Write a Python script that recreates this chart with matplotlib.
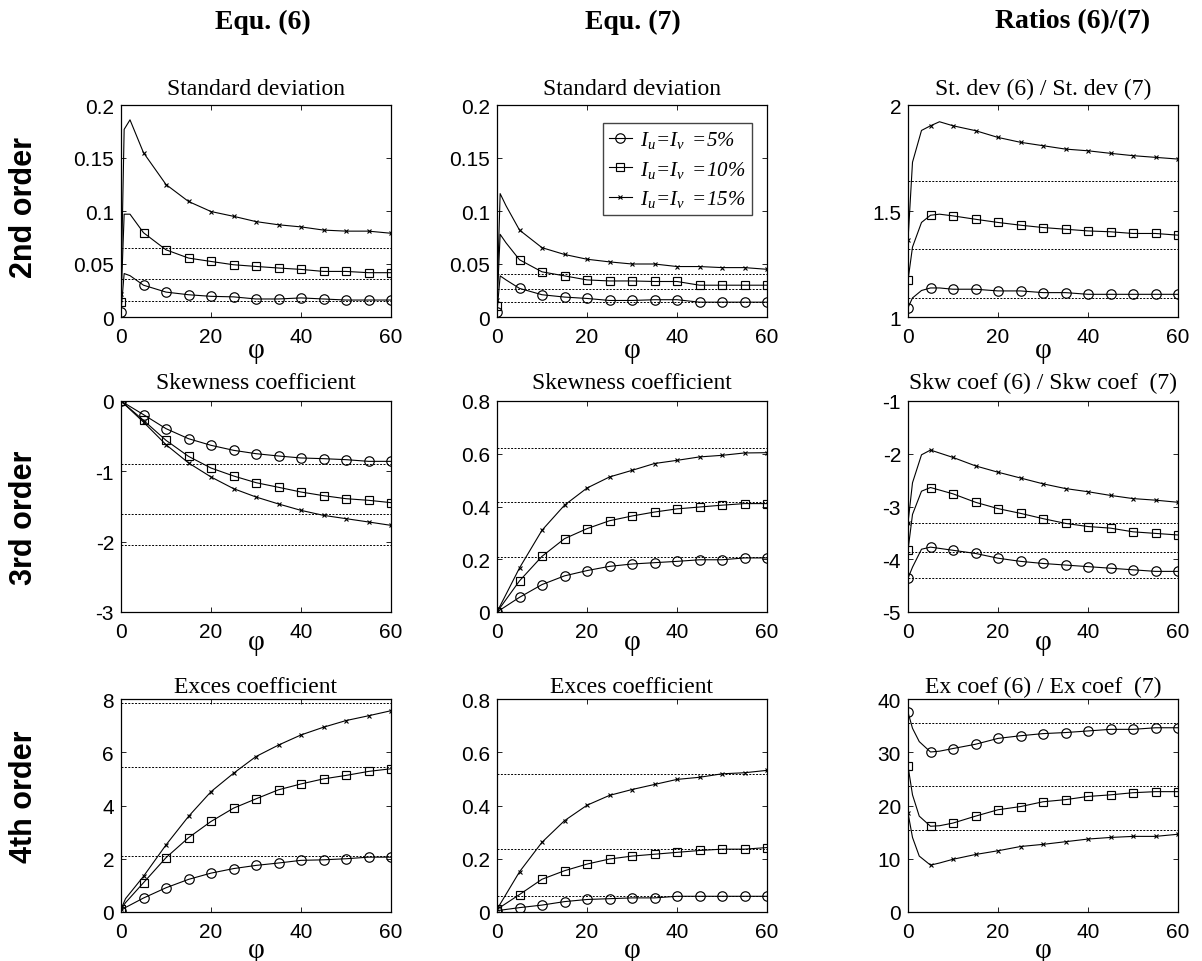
"""
Statistical moments of Equ. (6) and Equ. (7) versus phi, and their ratios
"""
import matplotlib
matplotlib.use('Agg')
import matplotlib.pyplot as plt

plt.rcParams['font.family'] = 'Liberation Sans'
plt.rcParams['mathtext.fontset'] = 'custom'
plt.rcParams['mathtext.rm'] = 'Liberation Serif:italic'
plt.rcParams['mathtext.it'] = 'Liberation Serif:italic'

# ---- data ----
labels = [r'$I_u\!=\!I_v\ =\!5\%$', r'$I_u\!=\!I_v\ =\!10\%$', r'$I_u\!=\!I_v\ =\!15\%$']

# 2nd order - standard deviation, Equ. (6)
phi_sd = [0, 0.7, 2, 5, 10, 15, 20, 25, 30, 35, 40, 45, 50, 55, 60]
sd6_5 = [0.005, 0.041, 0.039, 0.030, 0.0235, 0.021, 0.0195, 0.019, 0.017, 0.017, 0.018, 0.017, 0.016, 0.016, 0.016]
sd6_10 = [0.014, 0.097, 0.097, 0.0795, 0.0634, 0.0556, 0.0524, 0.0493, 0.0477, 0.0462, 0.0449, 0.043, 0.043, 0.0418, 0.0418]
sd6_15 = [0.022, 0.177, 0.186, 0.155, 0.125, 0.109, 0.0995, 0.095, 0.090, 0.087, 0.085, 0.082, 0.081, 0.081, 0.079]
sd6_ref = [0.0653, 0.0355, 0.0151]

# 2nd order - standard deviation, Equ. (7)
sd7_5 = [0.0047, 0.0388, 0.035, 0.027, 0.021, 0.0188, 0.0175, 0.0156, 0.0156, 0.0163, 0.0163, 0.014, 0.014, 0.014, 0.014]
sd7_10 = [0.0106, 0.078, 0.070, 0.054, 0.0426, 0.0388, 0.035, 0.034, 0.034, 0.0335, 0.0335, 0.030, 0.030, 0.030, 0.030]
sd7_15 = [0.016, 0.1164, 0.105, 0.082, 0.0654, 0.059, 0.0545, 0.052, 0.050, 0.050, 0.0476, 0.0476, 0.0466, 0.0466, 0.045]
sd7_ref = [0.0407, 0.0263, 0.0138]

# 2nd order - ratio
phi_rsd = [0, 1, 3, 5, 7, 10, 15, 20, 25, 30, 35, 40, 45, 50, 55, 60]
rsd_5 = [1.044, 1.09, 1.125, 1.137, 1.137, 1.131, 1.131, 1.123, 1.123, 1.115, 1.115, 1.107, 1.107, 1.107, 1.107, 1.107]
rsd_10 = [1.173, 1.33, 1.446, 1.480, 1.485, 1.477, 1.461, 1.446, 1.433, 1.422, 1.414, 1.406, 1.402, 1.394, 1.394, 1.386]
rsd_15 = [1.362, 1.73, 1.88, 1.902, 1.921, 1.902, 1.879, 1.847, 1.824, 1.808, 1.792, 1.784, 1.772, 1.761, 1.753, 1.745]
rsd_ref = [1.641, 1.323, 1.088]

# 3rd order - skewness
phi_5 = [0, 5, 10, 15, 20, 25, 30, 35, 40, 45, 50, 55, 60]
sk6_5 = [0, -0.194, -0.393, -0.536, -0.630, -0.701, -0.749, -0.782, -0.810, -0.820, -0.834, -0.858, -0.858]
sk6_10 = [0, -0.275, -0.559, -0.787, -0.953, -1.066, -1.161, -1.227, -1.294, -1.346, -1.389, -1.412, -1.445]
sk6_15 = [0, -0.30, -0.621, -0.88, -1.08, -1.246, -1.365, -1.464, -1.555, -1.626, -1.673, -1.72, -1.768]
sk6_ref = [-0.896, -1.607, -2.052]

sk7_5 = [0, 0.0556, 0.104, 0.137, 0.157, 0.173, 0.182, 0.187, 0.192, 0.198, 0.198, 0.205, 0.205]
sk7_10 = [0, 0.118, 0.211, 0.278, 0.316, 0.346, 0.364, 0.379, 0.391, 0.398, 0.405, 0.411, 0.411]
sk7_15 = [0, 0.167, 0.310, 0.405, 0.470, 0.512, 0.537, 0.563, 0.575, 0.588, 0.594, 0.603, 0.604]
sk7_ref = [0.623, 0.417, 0.209]

phi_rsk = [0, 1, 3, 5, 10, 15, 20, 25, 30, 35, 40, 45, 50, 55, 60]
rsk_5 = [-4.36, -4.15, -3.81, -3.77, -3.83, -3.89, -3.98, -4.04, -4.08, -4.11, -4.14, -4.17, -4.20, -4.23, -4.23]
rsk_10 = [-3.83, -3.15, -2.71, -2.64, -2.76, -2.92, -3.04, -3.13, -3.23, -3.32, -3.38, -3.41, -3.48, -3.51, -3.54]
rsk_15 = [-3.31, -2.55, -2.02, -1.93, -2.07, -2.23, -2.35, -2.46, -2.57, -2.66, -2.72, -2.79, -2.85, -2.88, -2.92]
rsk_ref = [-3.31, -3.87, -4.35]

# 4th order - excess
phi_ex = [0, 1, 5, 10, 15, 20, 25, 30, 35, 40, 45, 50, 55, 60]
ex6_5 = [0.05, 0.17, 0.525, 0.91, 1.225, 1.46, 1.63, 1.75, 1.84, 1.94, 1.96, 2.0, 2.06, 2.06]
ex6_10 = [0.1, 0.35, 1.10, 2.04, 2.79, 3.40, 3.90, 4.25, 4.59, 4.81, 5.0, 5.13, 5.28, 5.38]
ex6_15 = [0.1, 0.5, 1.34, 2.52, 3.59, 4.52, 5.21, 5.84, 6.27, 6.65, 6.94, 7.19, 7.37, 7.56]
ex6_ref = [7.84, 5.46, 2.1]

ex7_5 = [0.005, 0.0164, 0.026, 0.039, 0.047, 0.050, 0.053, 0.053, 0.059, 0.059, 0.059, 0.059, 0.059]
ex7_10 = [0.01, 0.0655, 0.123, 0.155, 0.18, 0.199, 0.21, 0.217, 0.224, 0.231, 0.236, 0.236, 0.242]
ex7_15 = [0.01, 0.151, 0.262, 0.343, 0.401, 0.438, 0.46, 0.479, 0.498, 0.506, 0.519, 0.523, 0.532]
ex7_ref = [0.517, 0.236, 0.060]

phi_rex = [0, 1, 2.5, 5, 7, 10, 15, 20, 25, 30, 35, 40, 45, 50, 55, 60]
rex_5 = [37.5, 34.5, 32.0, 30.05, 30.2, 30.7, 31.5, 32.6, 33.1, 33.5, 33.7, 34.0, 34.3, 34.3, 34.6, 34.6]
rex_10 = [27.4, 22.0, 18.0, 16.1, 16.2, 16.7, 18.0, 19.2, 19.8, 20.7, 21.1, 21.7, 22.0, 22.4, 22.6, 22.6]
rex_15 = [18.6, 14.0, 10.5, 8.8, 9.2, 9.9, 10.8, 11.5, 12.3, 12.7, 13.2, 13.7, 14.0, 14.2, 14.2, 14.6]
rex_ref = [35.5, 23.6, 15.4]

panels = [
    [(phi_sd, [sd6_5, sd6_10, sd6_15], sd6_ref, 'Standard deviation', (0, 0.2), [0, 0.05, 0.1, 0.15, 0.2]),
     (phi_sd, [sd7_5, sd7_10, sd7_15], sd7_ref, 'Standard deviation', (0, 0.2), [0, 0.05, 0.1, 0.15, 0.2]),
     (phi_rsd, [rsd_5, rsd_10, rsd_15], rsd_ref, 'St. dev (6) / St. dev (7)', (1, 2), [1, 1.5, 2])],
    [(phi_5, [sk6_5, sk6_10, sk6_15], sk6_ref, 'Skewness coefficient', (-3, 0), [-3, -2, -1, 0]),
     (phi_5, [sk7_5, sk7_10, sk7_15], sk7_ref, 'Skewness coefficient', (0, 0.8), [0, 0.2, 0.4, 0.6, 0.8]),
     (phi_rsk, [rsk_5, rsk_10, rsk_15], rsk_ref, 'Skw coef (6) / Skw coef  (7)', (-5, -1), [-5, -4, -3, -2, -1])],
    [(phi_ex, [ex6_5, ex6_10, ex6_15], ex6_ref, 'Exces coefficient', (0, 8), [0, 2, 4, 6, 8]),
     (phi_5, [ex7_5, ex7_10, ex7_15], ex7_ref, 'Exces coefficient', (0, 0.8), [0, 0.2, 0.4, 0.6, 0.8]),
     (phi_rex, [rex_5, rex_10, rex_15], rex_ref, 'Ex coef (6) / Ex coef  (7)', (0, 40), [0, 10, 20, 30, 40])],
]

col_titles = ['Equ. (6)', 'Equ. (7)', 'Ratios (6)/(7)']
row_titles = ['2nd order', '3rd order', '4th order']

# ---- layout (figure fractions) ----
W, H = 1202, 962
col_left = [121, 497, 908]
row_top = [106, 402, 700]
row_bot = [318, 613, 913]
title_pad = [8, 9, 5]
phi_off = [33, 30, 38]

markers = [dict(marker='o', markersize=6.8, markerfacecolor='none', markeredgewidth=0.85),
           dict(marker='s', markersize=5.4, markerfacecolor='none', markeredgewidth=0.85),
           dict(marker='x', markersize=3, markeredgewidth=0.8)]

fig = plt.figure(figsize=(W / 100, H / 100), dpi=100)

for r in range(3):
    for c in range(3):
        phi, series, refs, title, ylim, yticks = panels[r][c]
        ax = fig.add_axes([col_left[c] / W, 1 - row_bot[r] / H,
                           270 / W, (row_bot[r] - row_top[r]) / H])
        every = [i for i, p in enumerate(phi) if p % 5 == 0]
        for ys, mk, lab in zip(series, markers, labels):
            ax.plot(phi, ys, color='black', linewidth=0.8, markevery=every,
                    markeredgecolor='black', label=lab, **mk)
        for v in refs:
            ax.axhline(v, color='black', linestyle=(0, (2, 1.5)), linewidth=0.7)
        ax.set_xlim(0, 60)
        ax.set_ylim(*ylim)
        ax.set_xticks([0, 20, 40, 60])
        ax.set_yticks(yticks)
        ax.set_yticklabels([f'{v:g}' for v in yticks])
        ax.tick_params(direction='in', length=3.5, width=0.6, labelsize=15,
                       top=True, right=True)
        ax.tick_params(axis='x', pad=7)
        ax.tick_params(axis='y', pad=5)
        for s in ax.spines.values():
            s.set_linewidth(0.9)
        ax.set_title(title, fontsize=17, family='Liberation Serif', pad=title_pad[r])
        ax.text(0.5, -phi_off[r] / (row_bot[r] - row_top[r]), 'φ', transform=ax.transAxes,
                ha='center', va='center', fontsize=21, family='Liberation Serif')
        if r == 0 and c == 1:
            ax.legend(loc='upper right', bbox_to_anchor=(0.944, 0.915), borderaxespad=0,
                      fontsize=15, frameon=True, fancybox=False, edgecolor='#444444',
                      framealpha=1, handlelength=1.1, handletextpad=0.4,
                      labelspacing=0.4, borderpad=0.3)

for x, t in zip([263, 633, 1073], col_titles):
    fig.text(x / W, 1 - 22 / H, t, ha='center', va='center', fontsize=20,
             fontweight='bold', family='Liberation Serif')
for y, t in zip([207, 518, 797], row_titles):
    fig.text(24 / W, 1 - y / H, t, ha='center', va='center', rotation=90,
             fontsize=22, fontweight='bold', family='Liberation Sans')

plt.savefig('out.png', dpi=100)
